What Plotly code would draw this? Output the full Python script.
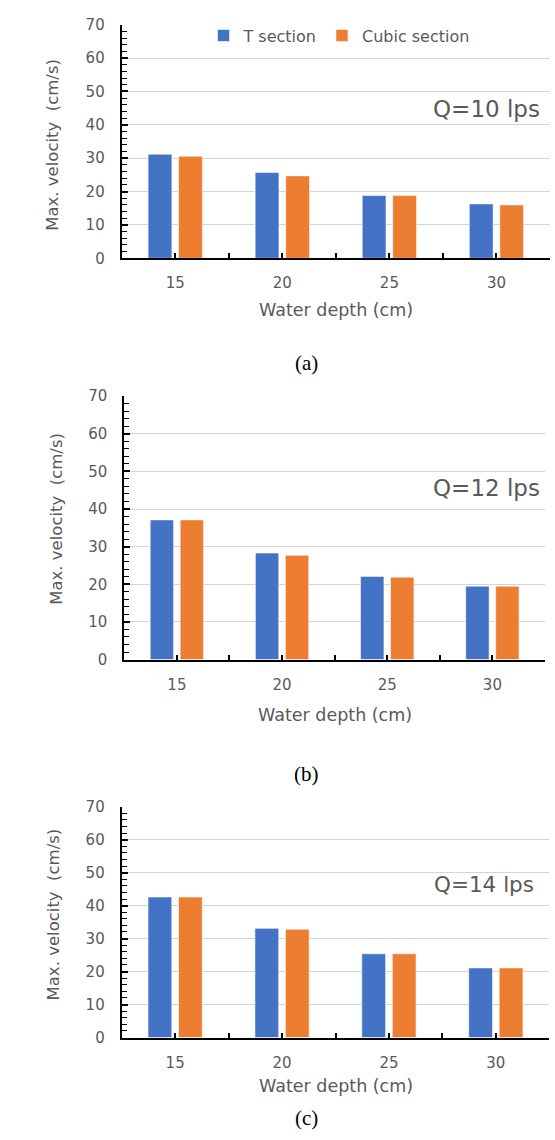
import plotly.graph_objects as go
from plotly.subplots import make_subplots

depths = ["15", "20", "25", "30"]
series_names = ["T section", "Cubic section"]
panel_labels = ["Q=10 lps", "Q=12 lps", "Q=14 lps"]
captions = ["(a)", "(b)", "(c)"]

t_q10 = [31.2, 25.7, 18.8, 16.3]
c_q10 = [30.6, 24.7, 18.8, 16.0]
t_q12 = [37.1, 28.3, 22.1, 19.5]
c_q12 = [37.1, 27.7, 21.9, 19.5]
t_q14 = [42.6, 33.1, 25.4, 21.1]
c_q14 = [42.6, 32.8, 25.4, 21.1]

y_ticks = [0, 10, 20, 30, 40, 50, 60, 70]

W, H = 555, 1140
BLUE = "#4472C4"
ORANGE = "#ED7D31"
GRAY = "#595959"
FONT = "DejaVu Sans"

panels = [(t_q10, c_q10), (t_q12, c_q12), (t_q14, c_q14)]

# pixel boxes of plot areas: (left, right, top, bottom)
boxes = [(121.7, 550.0, 16.0, 253.3),
         (124.3, 545.0, 393.3, 661.0),
         (121.7, 549.3, 810.5, 1045.0)]

fig = make_subplots(rows=3, cols=1)
xpos = list(range(len(depths)))

for i, (tv, cv) in enumerate(panels):
    r = i + 1
    fig.add_trace(go.Bar(x=xpos, y=tv, name=series_names[0], marker_color=BLUE,
                         marker_line=dict(color="rgba(255,255,255,0.55)", width=1),
                         showlegend=(i == 0), legendgroup="t"), row=r, col=1)
    fig.add_trace(go.Bar(x=xpos, y=cv, name=series_names[1], marker_color=ORANGE,
                         marker_line=dict(color="rgba(255,255,255,0.55)", width=1),
                         showlegend=(i == 0), legendgroup="c"), row=r, col=1)

annotations = []
xtitle_y = [306, 717, 1094]
ytitle_pos = [(53, 138), (57, 518), (53, 920)]
q_pos = [(542, 102, 23), (542, 487, 23), (536, 890, 21.5)]
cap_y = [360, 777, 1127]
cap_x = [306, 306, 306]

for i, (l, rgt, t, b) in enumerate(boxes):
    xa = "xaxis" if i == 0 else f"xaxis{i+1}"
    ya = "yaxis" if i == 0 else f"yaxis{i+1}"
    fig.layout[xa].update(
        domain=[l / W, rgt / W], range=[-0.5, len(depths) - 0.5],
        tickmode="array", tickvals=xpos, ticktext=depths,
        ticks="inside", ticklen=5, tickwidth=2, tickcolor="black",
        minor=dict(ticks="inside", ticklen=5, tickwidth=2, tickcolor="black",
                   dtick=0.5, tick0=-0.5, showgrid=False),
        showline=True, linecolor="black", linewidth=2, showgrid=False, zeroline=False,
        tickfont=dict(family=FONT, size=15, color=GRAY), ticklabelstandoff=10,
        fixedrange=True)
    fig.layout[ya].update(
        domain=[1 - b / H, 1 - t / H], range=[0, 70],
        tickmode="array", tickvals=y_ticks,
        ticks="inside", ticklen=6, tickwidth=1.5, tickcolor="black",
        minor=dict(ticks="inside", ticklen=5, tickwidth=1, tickcolor="black",
                   dtick=2, tick0=0, showgrid=False),
        showline=True, linecolor="black", linewidth=2,
        showgrid=True, gridcolor="#d4d4d4", gridwidth=1.2, zeroline=False,
        tickfont=dict(family=FONT, size=15, color=GRAY), ticklabelstandoff=12,
        fixedrange=True)

    cx = (l + rgt) / 2
    annotations.append(dict(text="Water depth (cm)", xref="paper", yref="paper",
                            x=cx / W, y=1 - xtitle_y[i] / H, xanchor="center", yanchor="middle",
                            showarrow=False, font=dict(family=FONT, size=17.5, color=GRAY)))
    yx, yy = ytitle_pos[i]
    annotations.append(dict(text="Max. velocity  (cm/s)", xref="paper", yref="paper",
                            x=yx / W, y=1 - yy / H, xanchor="center", yanchor="middle",
                            textangle=-90, showarrow=False,
                            font=dict(family=FONT, size=16.5, color=GRAY)))
    qx, qy, qs = q_pos[i]
    annotations.append(dict(text=panel_labels[i], xref="paper", yref="paper",
                            x=qx / W, y=1 - qy / H, xanchor="right", yanchor="middle",
                            showarrow=False, font=dict(family=FONT, size=qs, color=GRAY)))
    annotations.append(dict(text=captions[i], xref="paper", yref="paper",
                            x=cap_x[i] / W, y=1 - cap_y[i] / H, xanchor="center", yanchor="middle",
                            showarrow=False,
                            font=dict(family="Liberation Serif", size=21, color="black")))

fig.update_layout(
    width=W, height=H, margin=dict(l=0, r=0, t=0, b=0),
    paper_bgcolor="white", plot_bgcolor="white",
    barmode="group", bargap=0.43, bargroupgap=0.22,
    legend=dict(orientation="h", x=339 / W, y=1 - 27 / H, xanchor="center", yanchor="middle",
                font=dict(family=FONT, size=16, color=GRAY), itemwidth=30,
                bgcolor="rgba(0,0,0,0)", tracegroupgap=0),
    annotations=annotations,
    showlegend=True,
)

fig.write_html("out.html")
